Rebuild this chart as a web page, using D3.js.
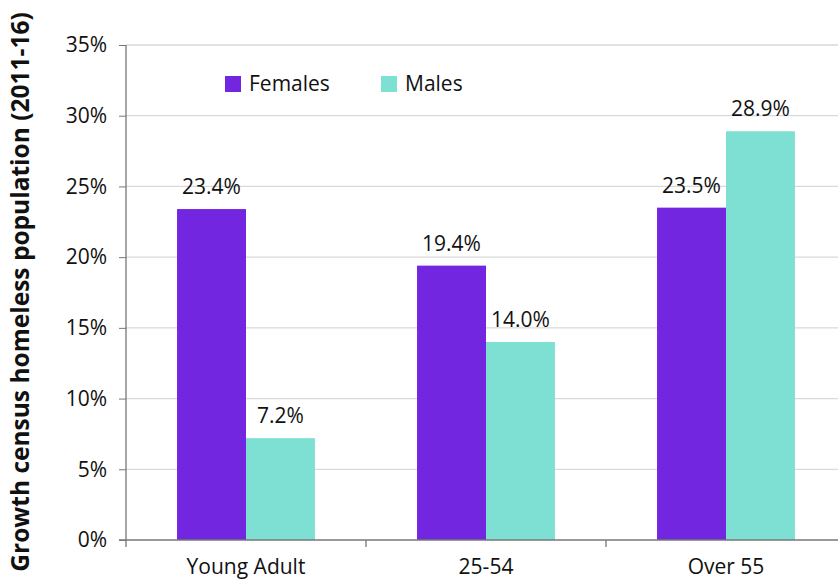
<!DOCTYPE html>
<html>
<head>
<meta charset="utf-8">
<script src="https://cdn.jsdelivr.net/npm/d3@7"></script>
<style>
	body { margin: 0; background: #fff; }
	text { font-family: "Open Sans", "Noto Sans", sans-serif; fill: #111; }
</style>
</head>
<body>
<svg id="chart" width="838" height="582"></svg>
<script>
var categories = ["Young Adult", "25-54", "Over 55"];
var seriesNames = ["Females", "Males"];
var females = [23.4, 19.4, 23.5];
var males = [7.2, 14.0, 28.9];
var yTicks = [0, 5, 10, 15, 20, 25, 30, 35];

var FONT = "'Open Sans', 'Noto Sans', sans-serif";
var svg = d3.select("#chart");
var margin = {top: 45, right: -8, bottom: 42, left: 126},
	width = +svg.attr("width") - margin.left - margin.right,
	height = +svg.attr("height") - margin.top - margin.bottom,
	colors = ["#7326E0", "#7DE0D3"];

var rows = categories.map(function(c, i) {
	return {key: c, values: [females[i], males[i]]};
});

var x = d3.scaleBand().domain(categories).range([0, width]);
var inner = d3.scaleBand().domain(seriesNames)
	.range([0, x.bandwidth()]).paddingOuter(0.74).paddingInner(0);
var y = d3.scaleLinear().domain([0, 35]).range([height, 0]);

var g = svg.append("g").attr("transform", "translate(" + margin.left + "," + margin.top + ")");

// gridlines
g.append("g").selectAll("line").data(yTicks.slice(1)).enter().append("line")
	.attr("x1", 0).attr("x2", width)
	.attr("y1", function(d){return y(d);}).attr("y2", function(d){return y(d);})
	.attr("stroke", "#d9d9d9").attr("stroke-width", 1.3);

// bars
var groups = g.selectAll(".grp").data(rows).enter().append("g")
	.attr("class", "grp")
	.attr("transform", function(d){return "translate(" + x(d.key) + ",0)";});

groups.selectAll("rect").data(function(d){
		return d.values.map(function(v, i){return {name: seriesNames[i], value: v, i: i};});
	}).enter().append("rect")
	.attr("x", function(d){return inner(d.name);})
	.attr("width", inner.bandwidth())
	.attr("y", function(d){return y(d.value);})
	.attr("height", function(d){return height - y(d.value);})
	.attr("fill", function(d){return colors[d.i];});

groups.selectAll(".lbl").data(function(d){
		return d.values.map(function(v, i){return {name: seriesNames[i], value: v};});
	}).enter().append("text")
	.attr("class", "lbl")
	.attr("x", function(d){return inner(d.name) + inner.bandwidth() / 2;})
	.attr("y", function(d){return y(d.value) - 15;})
	.attr("text-anchor", "middle")
	.attr("font-size", 21)
	.text(function(d){return d.value.toFixed(1) + "%";});

// y axis
var yAxis = g.append("g")
	.call(d3.axisLeft(y).tickValues(yTicks).tickFormat(function(d){return d + "%";}).tickSize(7).tickPadding(12));
yAxis.select(".domain").remove();
yAxis.selectAll(".tick line").attr("stroke", "#777");
yAxis.selectAll("text").attr("font-size", 21).style("font-family", FONT).attr("fill", "#111");
g.append("line").attr("x1", 0).attr("x2", 0).attr("y1", 0).attr("y2", height + 7)
	.attr("stroke", "#777").attr("stroke-width", 1.3);

// x axis
var xAxis = g.append("g").attr("transform", "translate(0," + height + ")")
	.call(d3.axisBottom(x).tickSize(0).tickPadding(19));
xAxis.select(".domain").remove();
xAxis.selectAll("text").attr("font-size", 21).style("font-family", FONT).attr("fill", "#111");
g.append("line").attr("x1", -7).attr("x2", width).attr("y1", height).attr("y2", height)
	.attr("stroke", "#777").attr("stroke-width", 1.3);
g.append("g").selectAll("line").data(categories.slice(1)).enter().append("line")
	.attr("x1", function(d){return x(d);}).attr("x2", function(d){return x(d);})
	.attr("y1", height).attr("y2", height + 7)
	.attr("stroke", "#777").attr("stroke-width", 1.3);

// y title
svg.append("text")
	.attr("transform", "translate(29," + 292 + ") rotate(-90)")
	.attr("text-anchor", "middle")
	.attr("font-size", 24.5)
	.attr("font-weight", "bold")
	.text("Growth census homeless population (2011-16)");

// legend
var legend = svg.append("g").selectAll("g").data(seriesNames).enter().append("g")
	.attr("transform", function(d, i){return "translate(" + (225 + i * 156) + ",76)";});
legend.append("rect").attr("width", 16).attr("height", 16)
	.attr("fill", function(d, i){return colors[i];});
legend.append("text").attr("x", 24).attr("y", 8).attr("dy", "0.35em")
	.attr("font-size", 21)
	.text(function(d){return d;});
</script>
</body>
</html>
